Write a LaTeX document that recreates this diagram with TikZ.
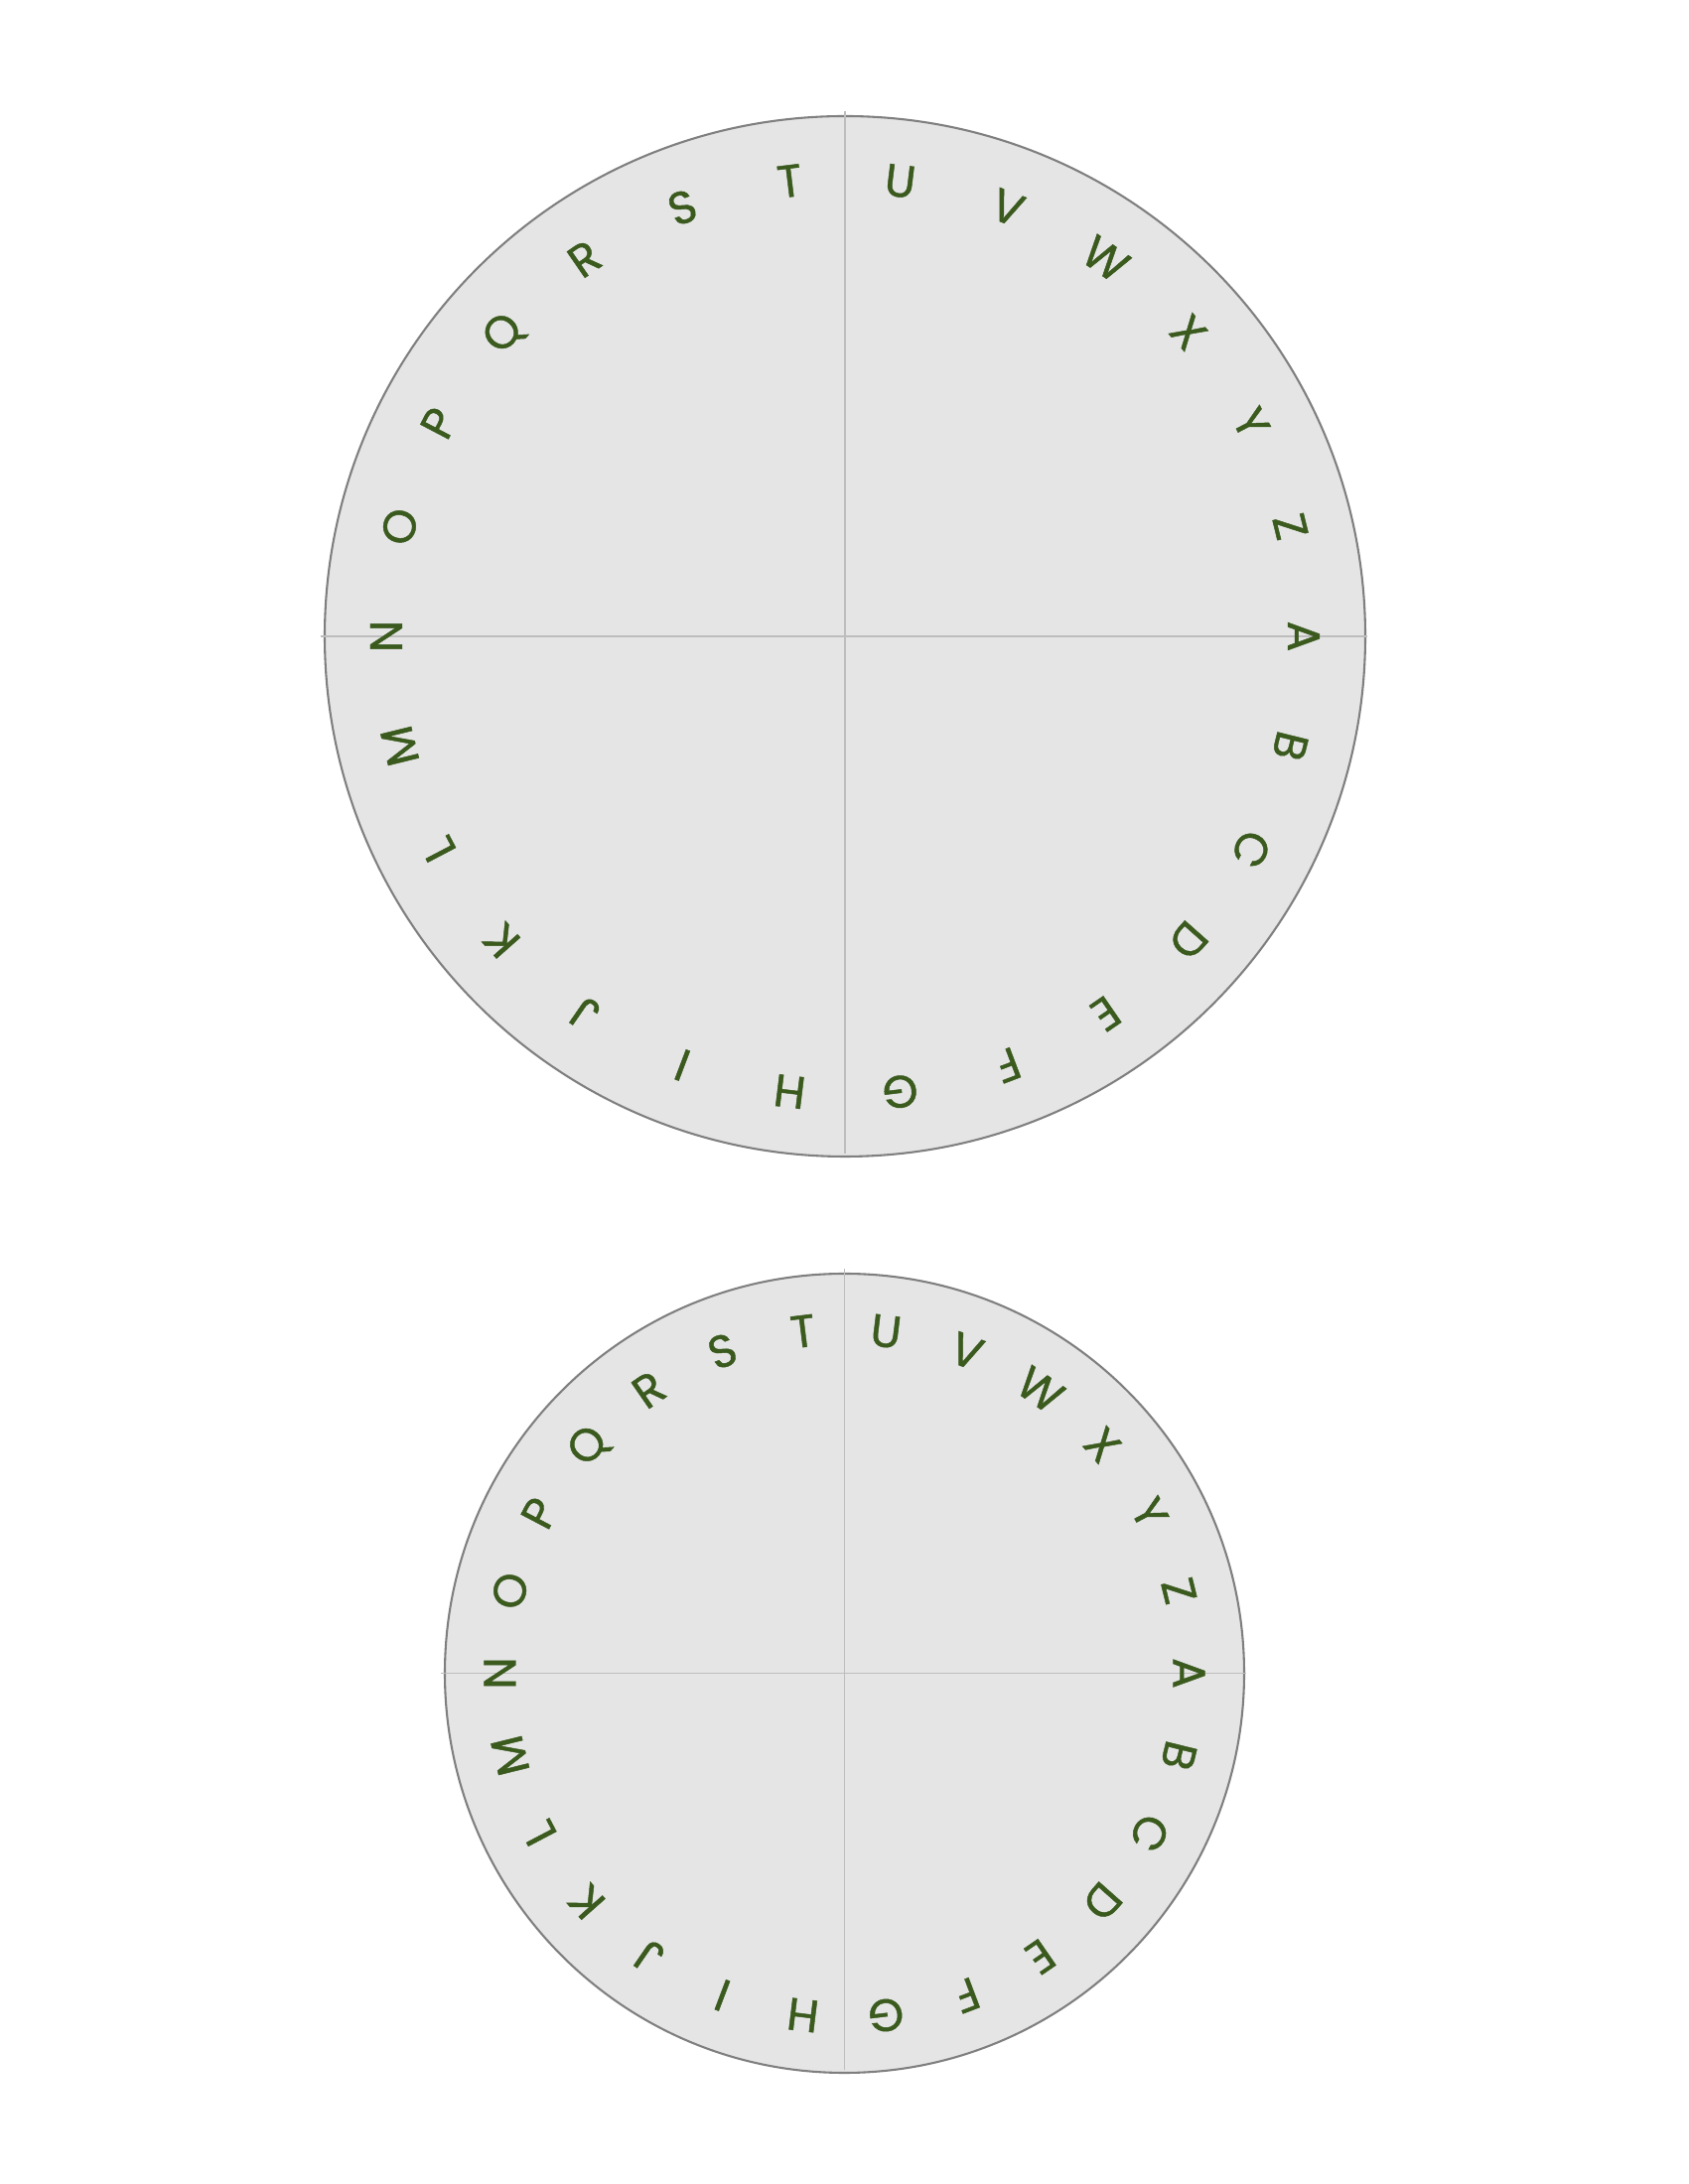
\documentclass[tikz,border=0pt]{standalone}
\usepackage{fontspec}
\setmainfont{Poppins}
\newfontfamily\letterfont[FakeBold=1]{Poppins}
\usetikzlibrary{calc}
\definecolor{lettergreen}{HTML}{3A5A1E}
\definecolor{discgray}{HTML}{E5E5E5}
\definecolor{rimgray}{HTML}{7F7F7F}
\definecolor{axisgray}{HTML}{BDBDBD}
\begin{document}
\begin{tikzpicture}[x=0.24pt,y=0.24pt,
  letter/.style={text=lettergreen, inner sep=0pt, font=\letterfont\fontsize{11}{11}\selectfont, text height=7.67pt, text depth=0pt},
  disc/.style={fill=discgray, draw=rimgray, line width=0.5pt},
  axis/.style={draw=axisgray, line width=0.3pt}]
\useasboundingbox (0,0) rectangle (1700,2200);
\foreach \cx/\cy/\r/\lr/\nm in {851/1559/524/462/big, 850.5/514.5/402.5/347/small} {
  \filldraw[disc] (\cx,\cy) circle (\r);
  \draw[axis] ({\cx-\r-4},\cy) -- ({\cx+\r+2},\cy);
  \draw[axis] (\cx,{\cy-\r+3}) -- (\cx,{\cy+\r+5});
  \foreach \L [count=\i from 0] in {A,B,C,D,E,F,G,H,I,J,K,L,M,N,O,P,Q,R,S,T,U,V,W,X,Y,Z} {
    \pgfmathsetmacro\ang{-\i*360/26}
    \pgfmathsetmacro\rot{\ang-90}
    \node[letter, rotate=\rot] (\nm-\L) at ($(\cx,\cy)+(\ang:\lr)$) {\L};
  }
}
\end{tikzpicture}
\end{document}
